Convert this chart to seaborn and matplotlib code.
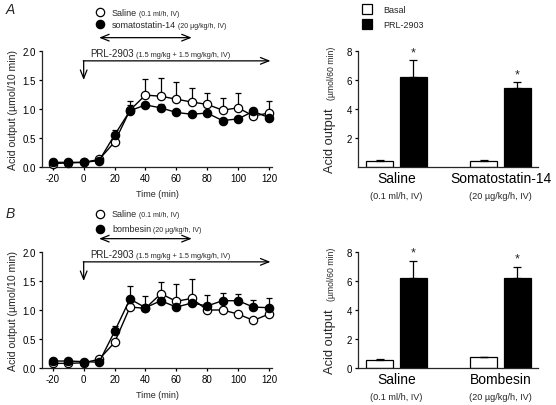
import matplotlib
matplotlib.use('Agg')
import matplotlib.pyplot as plt
import numpy as np
import pandas as pd
import seaborn as sns

# Time course data (Acid output, umol/10 min)
time = [-20, -10, 0, 10, 20, 30, 40, 50, 60, 70, 80, 90, 100, 110, 120]

a_saline = [0.06, 0.07, 0.08, 0.13, 0.43, 0.98, 1.24, 1.22, 1.17, 1.12, 1.08, 0.98, 1.02, 0.88, 0.93]
a_saline_err = [0.01, 0.01, 0.01, 0.02, 0.04, 0.16, 0.27, 0.31, 0.30, 0.24, 0.20, 0.21, 0.25, 0.03, 0.20]
a_soma = [0.08, 0.08, 0.08, 0.11, 0.55, 0.97, 1.07, 1.02, 0.94, 0.91, 0.93, 0.80, 0.83, 0.96, 0.85]
a_soma_err = [0.01, 0.01, 0.01, 0.02, 0.09, 0.10, 0.03, 0.07, 0.03, 0.03, 0.03, 0.03, 0.03, 0.03, 0.03]

b_saline = [0.08, 0.08, 0.09, 0.15, 0.44, 1.05, 1.03, 1.28, 1.15, 1.20, 1.00, 1.00, 0.93, 0.82, 0.93]
b_saline_err = [0.01, 0.01, 0.01, 0.02, 0.04, 0.05, 0.05, 0.20, 0.29, 0.34, 0.10, 0.05, 0.05, 0.04, 0.05]
b_bomb = [0.12, 0.12, 0.11, 0.10, 0.63, 1.19, 1.04, 1.16, 1.05, 1.12, 1.07, 1.16, 1.16, 1.05, 1.04]
b_bomb_err = [0.02, 0.02, 0.02, 0.02, 0.09, 0.22, 0.21, 0.12, 0.05, 0.05, 0.19, 0.13, 0.12, 0.13, 0.16]

# Integrated output (umol/60 min)
groups_a = ['Saline', 'Somatostatin-14']
groups_b = ['Saline', 'Bombesin']
sub_a = ['(0.1 ml/h, IV)', '(20 \u00b5g/kg/h, IV)']
sub_b = ['(0.1 ml/h, IV)', '(20 \u00b5g/kg/h, IV)']
conditions = ['Basal', 'PRL-2903']
a_basal = [0.40, 0.40]
a_basal_err = [0.06, 0.10]
a_prl = [6.20, 5.45]
a_prl_err = [1.15, 0.40]
b_basal = [0.55, 0.75]
b_basal_err = [0.08, 0.04]
b_prl = [6.20, 6.20]
b_prl_err = [1.20, 0.80]

sns.set_theme(style='ticks')
plt.rcParams['font.family'] = ['Liberation Sans', 'DejaVu Sans']
plt.rcParams['axes.unicode_minus'] = False
plt.rcParams['axes.linewidth'] = 0.9
plt.rcParams['xtick.major.width'] = 0.9
plt.rcParams['ytick.major.width'] = 0.9
plt.rcParams['xtick.major.size'] = 2.5
plt.rcParams['ytick.major.size'] = 2.5
plt.rcParams['xtick.major.pad'] = 2
plt.rcParams['ytick.major.pad'] = 2

W, H = 556, 406
fig = plt.figure(figsize=(W / 100, H / 100), dpi=100)


def px_axes(left, top, right, bottom):
    return fig.add_axes([left / W, 1 - bottom / H, (right - left) / W, (bottom - top) / H])


def fpos(x, y):
    return x / W, 1 - y / H


def two_size_text(x, y, big, small, bigsize=7, smallsize=5.2):
    t = fig.text(*fpos(x, y), big, fontsize=bigsize, ha='left', va='baseline')
    fig.canvas.draw()
    ann = plt.annotate(' ' + small, xy=(1, 0), xycoords=t, fontsize=smallsize,
                       ha='left', va='bottom', annotation_clip=False)
    return t, ann


def line_panel(top, s1, e1, s2, e2, lab1, sub1, lab2, sub2, letter, leg_off, letter_y):
    ax = px_axes(42, top, 272, top + 116)
    df = pd.DataFrame({'time': time * 2,
                       'value': s1 + s2,
                       'group': ['open'] * len(time) + ['filled'] * len(time)})
    # error bars (upward only)
    ax.errorbar(time, s1, yerr=[np.zeros(len(e1)), e1], fmt='none', ecolor='black',
                elinewidth=0.9, capsize=2.2, capthick=0.9, clip_on=False, zorder=2)
    ax.errorbar(time, s2, yerr=[np.zeros(len(e2)), e2], fmt='none', ecolor='black',
                elinewidth=0.9, capsize=2.2, capthick=0.9, clip_on=False, zorder=2)
    sns.lineplot(data=df[df.group == 'open'], x='time', y='value', ax=ax, color='black',
                 marker='o', markersize=6, markerfacecolor='white', markeredgecolor='black',
                 markeredgewidth=0.9, linewidth=1.0, clip_on=False, zorder=3)
    sns.lineplot(data=df[df.group == 'filled'], x='time', y='value', ax=ax, color='black',
                 marker='o', markersize=6, markerfacecolor='black', markeredgecolor='black',
                 markeredgewidth=0.9, linewidth=1.0, clip_on=False, zorder=4)
    ax.set_xlim(-27, 122)
    ax.set_ylim(0, 2.0)
    ax.set_xticks([-20, 0, 20, 40, 60, 80, 100, 120])
    ax.set_yticks([0.0, 0.5, 1.0, 1.5, 2.0])
    ax.set_yticklabels(['0.0', '0.5', '1.0', '1.5', '2.0'])
    ax.tick_params(labelsize=7, colors='black')
    ax.set_xlabel('Time (min)', fontsize=6.5, labelpad=4)
    ax.set_ylabel('Acid output (\u00b5mol/10 min)', fontsize=7.6, labelpad=3)
    sns.despine(ax=ax)

    # treatment arrows
    ax.annotate('', xy=(70, 2.23), xytext=(10, 2.23), annotation_clip=False,
                arrowprops=dict(arrowstyle='<->,head_length=0.5,head_width=0.2',
                                color='black', lw=0.9, shrinkA=0, shrinkB=0))
    ax.annotate('', xy=(121, 1.83), xytext=(-0.3, 1.83), annotation_clip=False,
                arrowprops=dict(arrowstyle='->,head_length=0.5,head_width=0.2',
                                color='black', lw=0.9, shrinkA=0, shrinkB=0))
    ax.annotate('', xy=(0, 1.50), xytext=(0, 1.83), annotation_clip=False,
                arrowprops=dict(arrowstyle='->,head_length=0.5,head_width=0.2',
                                color='black', lw=0.9, shrinkA=0, shrinkB=0))
    two_size_text(90, top + 5, 'PRL-2903', '(1.5 mg/kg + 1.5 mg/kg/h, IV)', 7, 5.3)

    # legend
    y1, y2 = top - leg_off[0], top - leg_off[1]
    ax.plot([100 / W], [1 - y1 / H], transform=fig.transFigure, marker='o',
            markersize=6, markerfacecolor='white', markeredgecolor='black',
            markeredgewidth=0.9, clip_on=False, linestyle='none')
    ax.plot([100 / W], [1 - y2 / H], transform=fig.transFigure, marker='o',
            markersize=6, markerfacecolor='black', markeredgecolor='black',
            markeredgewidth=0.9, clip_on=False, linestyle='none')
    two_size_text(112, y1 + 2.5, lab1, sub1, 6.5, 5.0)
    two_size_text(112, y2 + 2.5, lab2, sub2, 6.5, 5.0)

    fig.text(*fpos(6, letter_y), letter, fontsize=10, style='italic', ha='left',
             va='baseline')
    return ax


def bar_panel(top, groups, subs, basal, basal_err, prl, prl_err, show_zero, legend):
    ax = px_axes(358, top, 538, top + 116)
    df = pd.DataFrame({'group': groups * 2,
                       'cond': [conditions[0]] * 2 + [conditions[1]] * 2,
                       'value': basal + prl})
    sns.barplot(data=df, x='group', y='value', hue='cond', order=groups,
                hue_order=conditions, palette={'Basal': 'white', 'PRL-2903': 'black'},
                edgecolor='black', linewidth=0.9, width=0.65, gap=0.2, ax=ax,
                legend=False, errorbar=None)
    patches = sorted([p for p in ax.patches if p.get_width() > 0], key=lambda p: p.get_x())
    # order patches: group0 basal, group0 prl, group1 basal, group1 prl
    xs = [p.get_x() + p.get_width() / 2 for p in patches]
    order_vals = [basal[0], prl[0], basal[1], prl[1]]
    order_errs = [basal_err[0], prl_err[0], basal_err[1], prl_err[1]]
    ax.errorbar(xs, order_vals, yerr=[np.zeros(4), order_errs], fmt='none',
                ecolor='black', elinewidth=0.9, capsize=2.8, capthick=0.9, zorder=1)
    for i in [1, 3]:
        ax.text(xs[i], order_vals[i] + order_errs[i] + 0.15, '*', ha='center',
                va='bottom', fontsize=9)
    ax.set_xlim(-0.37, 1.36)
    ax.set_ylim(0, 8)
    if show_zero:
        ax.set_yticks([0, 2, 4, 6, 8])
    else:
        ax.set_yticks([2, 4, 6, 8])
    ax.tick_params(axis='y', labelsize=7, colors='black')
    ax.tick_params(axis='x', length=0, labelsize=10, pad=3, colors='black')
    ax.set_xlabel('')
    ax.set_ylabel('')
    sns.despine(ax=ax)
    for i, s in enumerate(subs):
        ax.annotate(s, xy=(i, 0), xycoords=('data', 'axes fraction'),
                    xytext=(0, -22.5), textcoords='offset points', ha='center',
                    va='baseline', fontsize=6.6, annotation_clip=False)
    # y label in two sizes
    ax.text(-0.12, -0.045, 'Acid output', transform=ax.transAxes, rotation=90,
            ha='right', va='bottom', fontsize=9.3)
    ax.text(-0.12, 0.585, '(\u00b5mol/60 min)', transform=ax.transAxes, rotation=90,
            ha='right', va='bottom', fontsize=6.2)
    if legend:
        ax.plot([367 / W], [1 - 10 / H], transform=fig.transFigure, marker='s',
                markersize=6.5, markerfacecolor='white', markeredgecolor='black',
                markeredgewidth=0.9, clip_on=False, linestyle='none')
        ax.plot([367 / W], [1 - 25 / H], transform=fig.transFigure, marker='s',
                markersize=6.5, markerfacecolor='black', markeredgecolor='black',
                markeredgewidth=0.9, clip_on=False, linestyle='none')
        fig.text(*fpos(383, 13), 'Basal', fontsize=6.5, va='baseline')
        fig.text(*fpos(383, 28), 'PRL-2903', fontsize=6.5, va='baseline')
    return ax


line_panel(52, a_saline, a_saline_err, a_soma, a_soma_err,
           'Saline', '(0.1 ml/h, IV)', 'somatostatin-14', '(20 \u00b5g/kg/h, IV)', 'A',
           (39, 27), 14)
line_panel(253, b_saline, b_saline_err, b_bomb, b_bomb_err,
           'Saline', '(0.1 ml/h, IV)', 'bombesin', '(20 \u00b5g/kg/h, IV)', 'B',
           (38, 23), 218)
bar_panel(52, groups_a, sub_a, a_basal, a_basal_err, a_prl, a_prl_err, False, True)
bar_panel(253, groups_b, sub_b, b_basal, b_basal_err, b_prl, b_prl_err, True, False)

fig.savefig('out.png', dpi=100)
